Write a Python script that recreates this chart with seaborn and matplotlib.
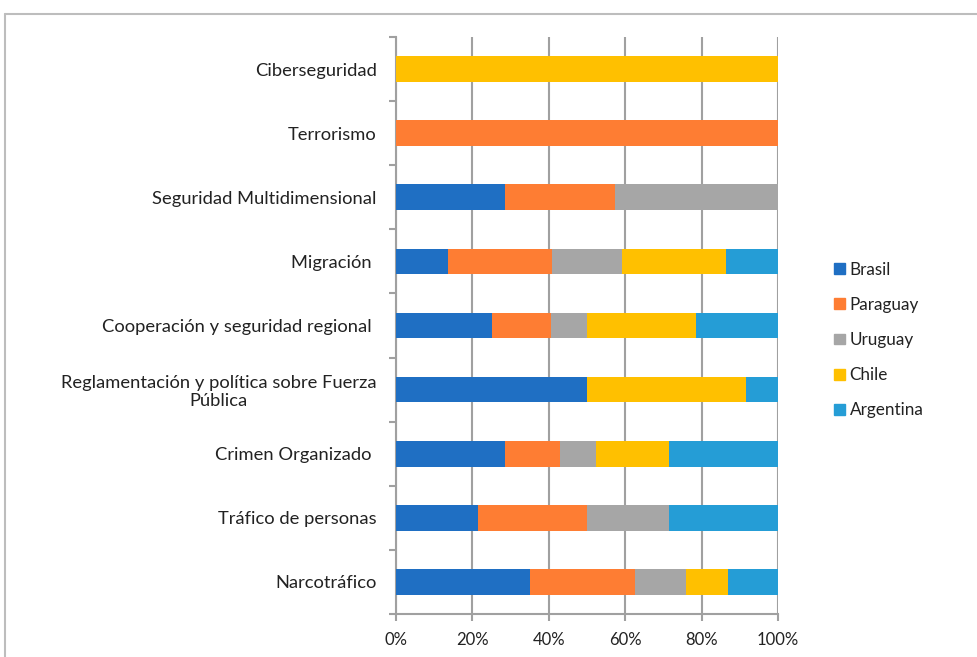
import matplotlib
matplotlib.use("Agg")
import matplotlib.pyplot as plt
import seaborn as sns
import pandas as pd
import numpy as np
from matplotlib.patches import Patch
from matplotlib.lines import Line2D

categories = ["Ciberseguridad", "Terrorismo", "Seguridad Multidimensional", "Migración ",
              "Cooperación y seguridad regional ", "Reglamentación y política sobre Fuerza\nPública",
              "Crimen Organizado ", "Tráfico de personas", "Narcotráfico"]
series = ["Brasil", "Paraguay", "Uruguay", "Chile", "Argentina"]
brasil    = [0, 0, 28.6, 13.6, 25.0, 50.0, 28.6, 21.4, 35.0]
paraguay  = [0, 100, 28.6, 27.3, 15.6, 0, 14.3, 28.6, 27.5]
uruguay   = [0, 0, 42.8, 18.2, 9.4, 0, 9.5, 21.4, 13.3]
chile     = [100, 0, 0, 27.3, 28.5, 41.7, 19.0, 0, 11.0]
argentina = [0, 0, 0, 13.6, 21.5, 8.3, 28.6, 28.6, 13.2]
colors = ["#1F6FC3", "#FE7D33", "#A6A6A6", "#FFC000", "#259DD6"]
xticks = [0, 20, 40, 60, 80, 100]
xticklabels = ["0%", "20%", "40%", "60%", "80%", "100%"]

sns.set_theme(style="white")
plt.rcParams["font.family"] = ["Lato", "DejaVu Sans"]

fig = plt.figure(figsize=(9.77, 6.57), dpi=100)
ax = fig.add_axes([396/977, 1-614/657, (778-396)/977, (614-37)/657])

vals = np.array([brasil, paraguay, uruguay, chile, argentina])
cum = np.cumsum(vals, axis=0)
for i in range(len(series) - 1, -1, -1):
    df = pd.DataFrame({"cat": categories, "val": cum[i]})
    sns.barplot(data=df, y="cat", x="val", orient="h", color=colors[i],
                saturation=1, width=0.4, ax=ax, zorder=3, linewidth=0)

ax.set_xlim(0, 100)
ax.set_ylim(len(categories) - 0.5, -0.5)
ax.set_xlabel("")
ax.set_ylabel("")
ax.set_xticks(xticks)
ax.set_xticklabels(xticklabels, fontsize=12, color="#222222")
ax.grid(axis="x", color="#A0A0A0", linewidth=1.5, zorder=0)
ax.set_axisbelow(True)
for s in ["top", "right"]:
    ax.spines[s].set_visible(False)
for s in ["left", "bottom"]:
    ax.spines[s].set_color("#A0A0A0")
    ax.spines[s].set_linewidth(1.5)
ax.tick_params(axis="x", length=5, width=1.5, color="#A0A0A0", pad=8, bottom=True)
ax.tick_params(axis="y", which="major", length=0, pad=14, labelsize=13.2, labelcolor="#222222")
ax.set_yticks(np.arange(-0.5, len(categories), 1.0), minor=True)
ax.tick_params(axis="y", which="minor", length=5, width=1.5, color="#A0A0A0", left=True)
for lab in ax.get_yticklabels():
    lab.set_multialignment("center")
    lab.set_linespacing(1.15)

handles = [Patch(facecolor=c, edgecolor=c, label=s) for s, c in zip(series, colors)]
fig.legend(handles=handles, loc="center left", bbox_to_anchor=(819/977, 1-340/657),
           frameon=False, fontsize=12.3, handlelength=0.6, handleheight=0.6,
           handletextpad=0.3, labelspacing=1.12, labelcolor="#222222")

fig.add_artist(Line2D([5/977, 1], [1-14/657, 1-14/657], transform=fig.transFigure, color="#BDBDBD", linewidth=1.5))
fig.add_artist(Line2D([5/977, 5/977], [0, 1-14/657], transform=fig.transFigure, color="#BDBDBD", linewidth=1.5))

fig.savefig("out.png", dpi=100)
